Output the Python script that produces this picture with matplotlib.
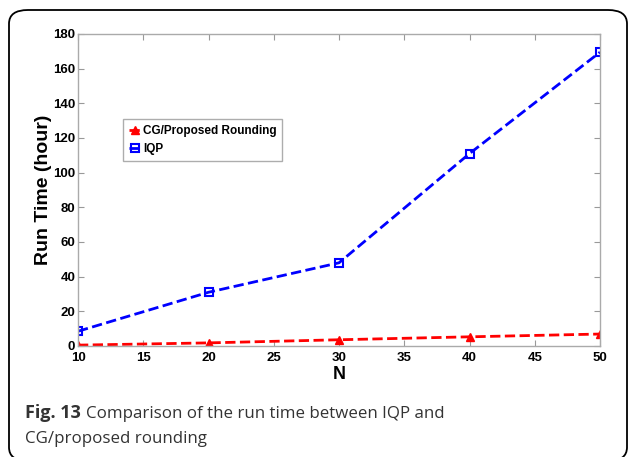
import matplotlib
matplotlib.use("Agg")
import matplotlib.pyplot as plt
from matplotlib.patches import FancyBboxPatch

# data
n_vals = [10, 20, 30, 40, 50]
cg_time = [0.5, 1.8, 3.6, 5.3, 6.9]
iqp_time = [8.5, 31, 48, 111, 169.5]
x_ticks = [10, 15, 20, 25, 30, 35, 40, 45, 50]
y_ticks = [0, 20, 40, 60, 80, 100, 120, 140, 160, 180]

bold_font = ['Liberation Sans', 'DejaVu Sans']

fig = plt.figure(figsize=(6.3, 4.57), dpi=100)

# rounded outer frame (bottom runs off the picture)
frame = FancyBboxPatch((9 / 630, -4 / 457), 618 / 630, 451 / 457,
                       boxstyle="round,pad=0,rounding_size=0.03",
                       transform=fig.transFigure, fill=False,
                       edgecolor='black', linewidth=1.3)
fig.patches.append(frame)

ax = fig.add_axes([78 / 630, 111 / 457, 522 / 630, 312 / 457])
ax.plot(n_vals, cg_time, '--', color='red', lw=2, marker='^', ms=6,
        mfc='red', mec='red', label='CG/Proposed Rounding')
ax.plot(n_vals, iqp_time, '--', color='blue', lw=2, marker='s', ms=6,
        mfc='none', mec='blue', mew=1.5, label='IQP')

ax.set_xlim(10, 50)
ax.set_ylim(0, 180)
ax.set_xticks(x_ticks)
ax.set_yticks(y_ticks)
ax.tick_params(direction='in', top=True, right=True, length=4, color='#999999',
               labelsize=9.5)
ax.tick_params(axis='x', pad=4)
ax.tick_params(axis='y', pad=2)
for lab in ax.get_xticklabels() + ax.get_yticklabels():
    lab.set_family(bold_font)
    lab.set_fontweight('bold')
for sp in ax.spines.values():
    sp.set_color('#aaaaaa')
    sp.set_linewidth(1)

ax.set_xlabel('N', family=bold_font, fontweight='bold', fontsize=13, labelpad=2)
ax.set_ylabel('Run Time (hour)', family=bold_font, fontweight='bold',
              fontsize=14, labelpad=1)

leg = ax.legend(loc='upper left', bbox_to_anchor=(0.086, 0.728), fancybox=False,
                borderaxespad=0, borderpad=0.5, handlelength=1.0,
                handletextpad=0.2, labelspacing=0.55,
                prop={'family': bold_font, 'weight': 'bold', 'size': 8.5})
leg.get_frame().set_edgecolor('#999999')
leg.get_frame().set_linewidth(1)

# caption
cap_col = '#333333'
t1 = fig.text(25 / 630, 1 - 418 / 457, 'Fig. 13', fontsize=13,
              fontweight='bold', family='Open Sans', color=cap_col,
              va='baseline')
fig.canvas.draw()
bb = t1.get_window_extent()
fig.text((bb.x1 + 5) / 630, 1 - 418 / 457,
         'Comparison of the run time between IQP and', fontsize=12.2,
         family='Open Sans', color=cap_col, va='baseline')
fig.text(25 / 630, 1 - 443 / 457, 'CG/proposed rounding', fontsize=12.2,
         family='Open Sans', color=cap_col, va='baseline')

fig.savefig('out.png', dpi=100)
